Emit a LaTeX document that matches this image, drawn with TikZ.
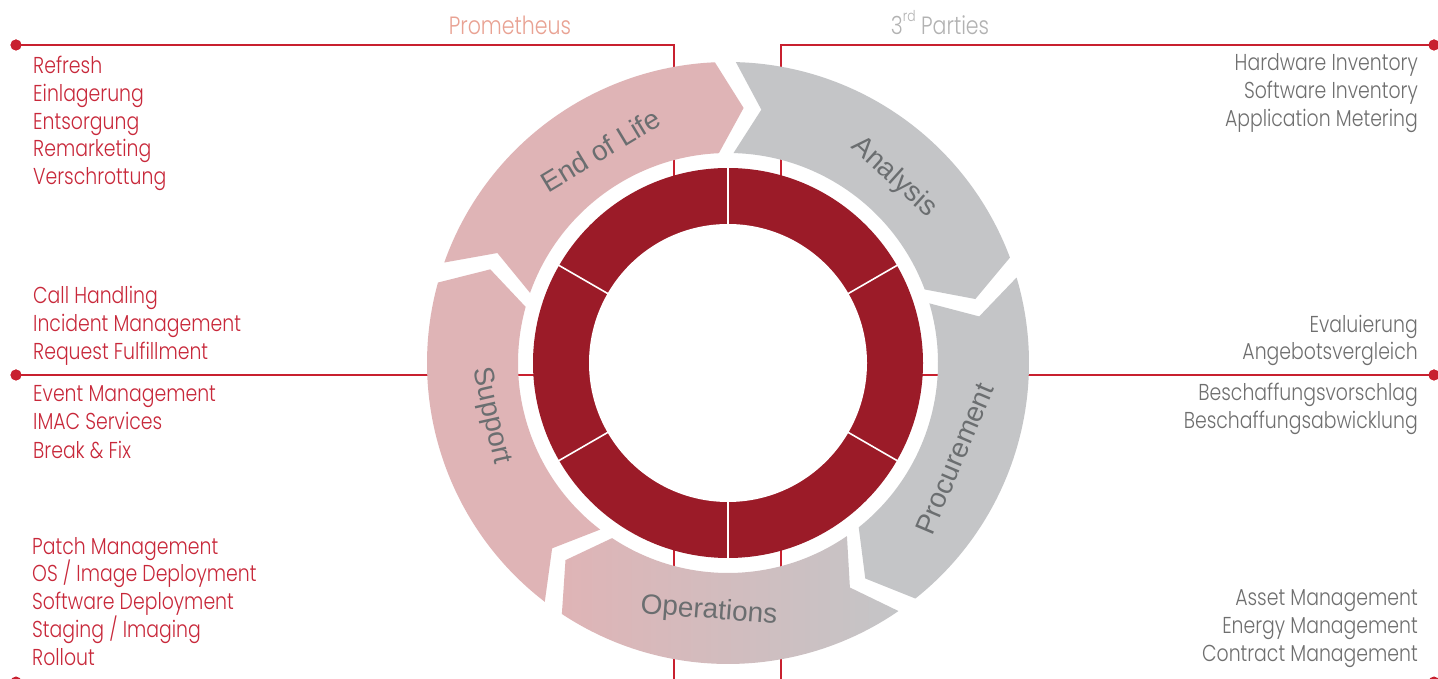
\documentclass[tikz,border=0pt]{standalone}
\usepackage{fontspec}
\setmainfont{Liberation Sans}
\IfFontExistsTF{Poppins Light}{\newfontfamily\fut{Poppins Light}[FakeStretch=0.82]}{\newfontfamily\fut{Poppins}[FakeStretch=0.82]}
\newfontfamily\arl{Liberation Sans}
\definecolor{redline}{HTML}{C8202F}
\definecolor{redtext}{HTML}{C8283A}
\definecolor{darkring}{HTML}{9B1B28}
\definecolor{pinkarr}{HTML}{DFB4B6}
\definecolor{grayarr}{HTML}{C4C5C7}
\definecolor{lbl}{HTML}{6B6E70}
\definecolor{graytext}{HTML}{6F6F6F}
\definecolor{salmon}{HTML}{E9A293}
\definecolor{lightgray}{HTML}{B2B2B2}
\newcommand\arrowshape[3]{\path[#3] (#1:301) arc[start angle=#1, end angle=#2, radius=301] -- ({#2-6}:255.5) -- (#2:210) arc[start angle=#2, end angle=#1, radius=210] -- ({#1-6}:255.5) -- cycle;}
\tikzset{
  redl/.style={draw=redline, line width=1.8pt},
  enddot/.style={circle, fill=redline, inner sep=0pt, minimum size=11pt},
  ltext/.style={anchor=base west, text=redtext, font=\fut\fontsize{23}{28}\selectfont, inner sep=0pt},
  rtext/.style={anchor=base east, text=graytext, font=\fut\fontsize{23}{28}\selectfont, inner sep=0pt},
  albl/.style={text=lbl, font=\arl\fontsize{28}{30}\selectfont, inner sep=0pt},
  sep/.style={draw=white, line width=1.6pt}
}
\begin{document}
\begin{tikzpicture}[x=1pt,y=1pt]
\fill[white] (0,0) rectangle (1438,679);
\useasboundingbox (0,0) rectangle (1438,679);
\coordinate (C) at (728,316);
% red connector lines
\node[enddot] (dTL) at (16,634) {};
\node[enddot] (dTR) at (1434,634) {};
\node[enddot] (dML) at (16,304) {};
\node[enddot] (dMR) at (1434,304) {};
\node[enddot] (dBL) at (16,-3) {};
\node[enddot] (dBR) at (1434,-3) {};
\coordinate (kTL) at (674,634);
\coordinate (kBL) at (674,-3);
\coordinate (kTR) at (781,634);
\coordinate (kBR) at (781,-3);
\draw[redl] (dTL.center) -- (kTL) -- (kBL) -- (dBL.center);
\draw[redl] (dTR.center) -- (kTR) -- (kBR) -- (dBR.center);
\draw[redl] (dML.center) -- (dMR.center);
\node[enddot] at (dTL) {};
\node[enddot] at (dTR) {};
\node[enddot] at (dML) {};
\node[enddot] at (dMR) {};
% arrows
\begin{scope}[shift={(C)}]
\arrowshape{160.5}{92.5}{fill=pinkarr}
\arrowshape{88.5}{20.5}{fill=grayarr}
\arrowshape{16.5}{-51.5}{fill=grayarr}
\arrowshape{304.5}{236.5}{left color=pinkarr, right color=grayarr}
\arrowshape{232.5}{164.5}{fill=pinkarr}
% inner ring
\fill[darkring] (0,0) circle[radius=195];
\fill[white] (0,0) circle[radius=139];
\foreach \a in {30,90,150,210,270,330} \draw[sep] (\a:137) -- (\a:197);
% arrow labels
\node[albl, rotate=31] (eol) at (121:248) {End of Life};
\node[albl, rotate=-42] (ana) at (48.2:249) {Analysis};
\node[albl, rotate=67] (pro) at (-22.9:246) {Procurement};
\node[albl, rotate=-4.4] (ope) at (265.6:249) {Operations};
\node[albl, rotate=-77.4] (sup) at (192.6:243) {Support};
\end{scope}
% headers
\node[anchor=base, text=salmon, font=\fut\fontsize{25}{25}\selectfont, inner sep=0pt] (prom) at (510,644.7) {Prometheus};
\node[anchor=base, text=lightgray, font=\fut\fontsize{25}{25}\selectfont, inner sep=0pt] (third) at (940,644.7) {3\raisebox{0.5em}{\fontsize{15}{15}\selectfont rd} Parties};
% left lists
\node[ltext] (l1) at (33,605.5) {Refresh};
\node[ltext] (l2) at (33,577.7) {Einlagerung};
\node[ltext] (l3) at (33,549.9) {Entsorgung};
\node[ltext] (l4) at (33,522.1) {Remarketing};
\node[ltext] (l5) at (33,494.3) {Verschrottung};
\node[ltext] (l6) at (33,375.7) {Call Handling};
\node[ltext] (l7) at (33,347.3) {Incident Management};
\node[ltext] (l8) at (33,319) {Request Fulfillment};
\node[ltext] (l9) at (33,277.3) {Event Management};
\node[ltext] (l10) at (33,249) {IMAC Services};
\node[ltext] (l11) at (33,220.7) {Break \& Fix};
\node[ltext] (l12) at (32,124.7) {Patch Management};
\node[ltext] (l13) at (32,97) {OS / Image Deployment};
\node[ltext] (l14) at (32,69.3) {Software Deployment};
\node[ltext] (l15) at (32,41.6) {Staging / Imaging};
\node[ltext] (l16) at (32,13.9) {Rollout};
% right lists
\node[rtext] (r1) at (1418,608.3) {Hardware Inventory};
\node[rtext] (r2) at (1418,580.3) {Software Inventory};
\node[rtext] (r3) at (1418,552.6) {Application Metering};
\node[rtext] (r4) at (1418,346.7) {Evaluierung};
\node[rtext] (r5) at (1418,319) {Angebotsvergleich};
\node[rtext] (r6) at (1418,278) {Beschaffungsvorschlag};
\node[rtext] (r7) at (1418,250.7) {Beschaffungsabwicklung};
\node[rtext] (r8) at (1418,73) {Asset Management};
\node[rtext] (r9) at (1418,45.4) {Energy Management};
\node[rtext] (r10) at (1418,17.6) {Contract Management};
\end{tikzpicture}
\end{document}
